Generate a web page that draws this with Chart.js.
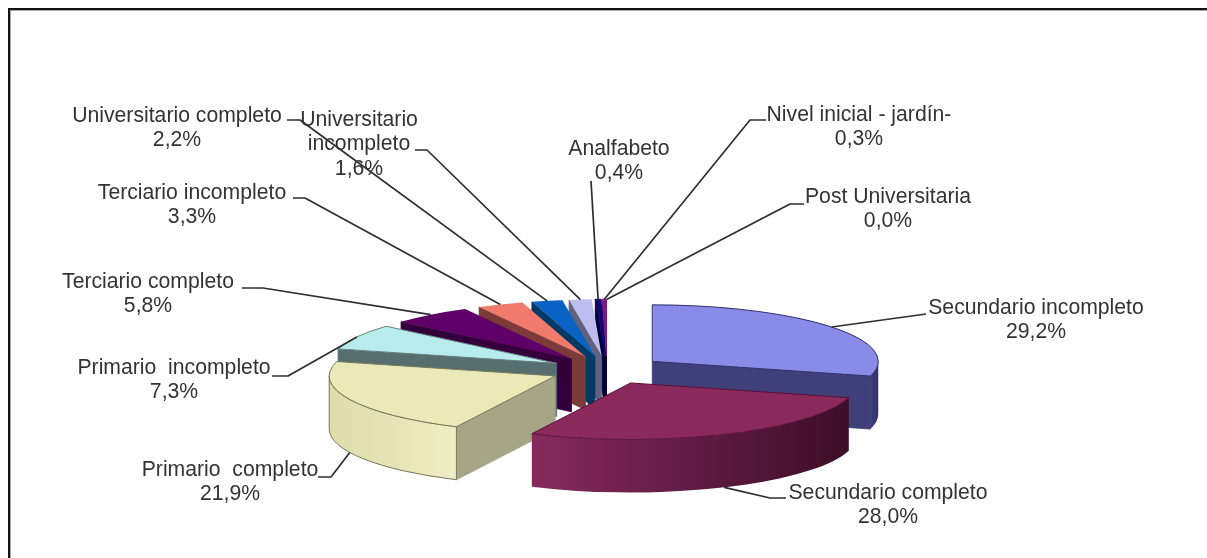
<!DOCTYPE html>
<html><head><meta charset="utf-8">
<style>
html,body{margin:0;padding:0;background:#fff;overflow:hidden}
#wrap{position:relative;width:1207px;height:558px}
#frame{position:absolute;left:8px;top:8px;right:0;bottom:0;border-top:2px solid #111;border-left:2px solid #111;box-shadow:inset 1px 1px 0 #aaa}
canvas{position:absolute;left:0;top:0}
</style>
<script src="https://cdn.jsdelivr.net/npm/chart.js@4"></script>
</head><body><div id="wrap"><div id="frame"></div><canvas id="c" width="1207" height="558"></canvas></div>
<script>
const categories = ['Secundario incompleto','Secundario completo','Primario  completo','Primario  incompleto','Terciario completo','Terciario incompleto','Universitario completo','Universitario incompleto','Analfabeto','Nivel inicial - jardín-','Post Universitaria'];
const values = [29.2,28.0,21.9,7.3,5.8,3.3,2.2,1.6,0.4,0.3,0.0];
const topColors = ['#8a8ae8','#8a2a5c','#ece9b8','#b8ecec','#5f0068','#f07a6c','#0a62c4','#bcbcee','#14086e','#7a1a8c','#c000c0'];
const faceColors = ['#3f3f7a','#4a1430','#a6a586','#566f6e','#33003c','#7c3a38','#023a66','#62627e','#000038','#000038','#600060'];
const wallLeft = ['#3c3c78','#862a5c','#dedcaa','#566f6e','#33003c','#7c3a38','#023a66','#62627e','#000038','#000038','#600060'];
const wallRight = ['#33336a','#3c0e28','#efedc4','#566f6e','#33003c','#7c3a38','#023a66','#62627e','#000038','#000038','#600060'];
const outlines = ['#30306a','#5a1038','#77775a','#66807f','','','','','#14086e','#7a1a8c',''];
// label layout: text lines, centre x, first line y, leader elbow, and text-side leader start
const labelLines = [['Secundario incompleto'],['Secundario completo'],['Primario  completo'],['Primario  incompleto'],['Terciario completo'],['Terciario incompleto'],['Universitario completo'],['Universitario','incompleto'],['Analfabeto'],['Nivel inicial - jardín-'],['Post Universitaria']];
const labelX = [1036,888,230,174,148,192,177,359,619,859,888];
const labelY = [308,493,470,368,282,193,116,120,149,115,197];
const leaderStart = [[926,314],[786,498],[318,477],[272,376],[242,288],[293,198],[287,120],[415,150],[591,181],[766,120],[804,204]];
const leaderElbow = [[926,314],[770,498],[331,477],[288,376],[263,288],[305,198],[300,120],[427,150],[591,181],[750,120],[790,204]];

const center = {x:607,y:370}, tilt = 0.25, depth = 53, explode = 57, radius = 226;
const drawOrder = [10,9,8,7,6,5,4,3,0,2,1];

const pie3d = {
  id:'pie3d',
  beforeDatasetDraw(chart){
    const ctx = chart.ctx, meta = chart.getDatasetMeta(0);
    const geo = i => {
      const a = meta.data[i], mid = (a.startAngle+a.endAngle)/2;
      return {a, mid, x:center.x+explode*Math.cos(mid), y:center.y+tilt*explode*Math.sin(mid), s:a.startAngle, e:a.endAngle, r:a.outerRadius};
    };
    for (const i of drawOrder){
      const g = geo(i);
      if (g.e - g.s <= 0) continue;
      const ry = g.r*tilt;
      const px = t => g.x+g.r*Math.cos(t), py = t => g.y+ry*Math.sin(t);
      // radial faces
      const radial = t => {
        ctx.beginPath();ctx.moveTo(g.x,g.y);ctx.lineTo(px(t),py(t));ctx.lineTo(px(t),py(t)+depth);ctx.lineTo(g.x,g.y+depth);ctx.closePath();
        ctx.fillStyle = faceColors[i];ctx.fill();
        ctx.strokeStyle = faceColors[i];ctx.lineWidth = 0.8;ctx.stroke();
      };
      if (Math.cos(g.e) > 0) radial(g.e);
      if (Math.cos(g.s) < 0) radial(g.s);
      // outer wall (front part)
      const w1 = Math.max(g.s,0), w2 = Math.min(g.e,Math.PI);
      if (w2 > w1){
        ctx.beginPath();
        ctx.ellipse(g.x,g.y,g.r,ry,0,w1,w2);
        ctx.ellipse(g.x,g.y+depth,g.r,ry,0,w2,w1,true);
        ctx.closePath();
        const gr = ctx.createLinearGradient(px(w2),0,px(w1),0);
        gr.addColorStop(0,wallLeft[i]);gr.addColorStop(1,wallRight[i]);
        ctx.fillStyle = gr;ctx.fill();
        if (i===2){ctx.strokeStyle=outlines[i];ctx.lineWidth=1;ctx.stroke();}
      }
      // top face, drawn by the arc element under a flattening transform
      ctx.save();
      ctx.translate(g.x,g.y);ctx.scale(1,tilt);ctx.translate(-g.a.x,-g.a.y);
      g.a.draw(ctx);
      ctx.restore();
      if (outlines[i]){
        ctx.beginPath();ctx.moveTo(g.x,g.y);ctx.ellipse(g.x,g.y,g.r,ry,0,g.s,g.e);ctx.closePath();
        ctx.strokeStyle=outlines[i];ctx.lineWidth=1;ctx.stroke();
      }
    }
    return false;
  },
  afterDatasetsDraw(chart){
    const ctx = chart.ctx, meta = chart.getDatasetMeta(0);
    ctx.save();
    ctx.strokeStyle='#2e2e2e';ctx.lineWidth=1.7;ctx.lineJoin='round';
    categories.forEach((c,i)=>{
      const a = meta.data[i], mid=(a.startAngle+a.endAngle)/2;
      const gx=center.x+explode*Math.cos(mid), gy=center.y+tilt*explode*Math.sin(mid);
      const ex=gx+a.outerRadius*Math.cos(mid), ey=gy+a.outerRadius*tilt*Math.sin(mid)+(Math.sin(mid)>0.1?depth:0);
      ctx.beginPath();ctx.moveTo(...leaderStart[i]);ctx.lineTo(...leaderElbow[i]);ctx.lineTo(ex,ey);ctx.stroke();
    });
    ctx.fillStyle='#333333';ctx.font='21.2px "Liberation Sans", Arial, sans-serif';ctx.textAlign='center';ctx.textBaseline='middle';
    categories.forEach((c,i)=>{
      const lines=[...labelLines[i],values[i].toFixed(1).replace('.',',')+'%'];
      lines.forEach((t,j)=>ctx.fillText(t,labelX[i],labelY[i]+j*24.5));
    });
    ctx.restore();
  }
};

new Chart(document.getElementById('c'),{
  type:'pie',
  data:{labels:categories,datasets:[{data:values,backgroundColor:topColors,borderWidth:0}]},
  options:{responsive:false,animation:false,radius:radius,layout:{padding:0},
    plugins:{legend:{display:false},title:{display:false},tooltip:{enabled:false}}},
  plugins:[pie3d]
});
</script></body></html>
